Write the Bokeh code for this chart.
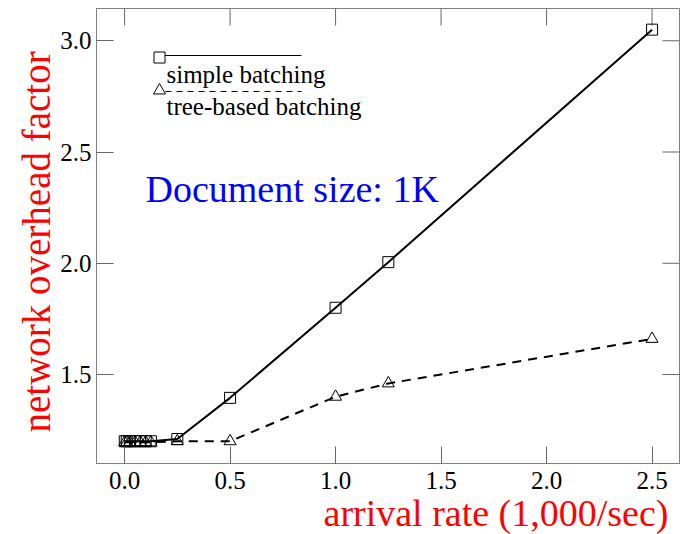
from bokeh.embed import file_html
from bokeh.models import FixedTicker, Label, PrintfTickFormatter, Range1d, Title
from bokeh.plotting import figure
from bokeh.resources import INLINE

# arrival rate in thousands of requests per second
rate = [0.001, 0.01, 0.025, 0.05, 0.075, 0.1, 0.125, 0.25, 0.5, 1.0, 1.25, 2.5]
# network overhead factor for each batching scheme
overhead_simple = [1.2, 1.2, 1.2, 1.2, 1.2, 1.2, 1.2, 1.21, 1.395, 1.8, 2.005, 3.05]
overhead_tree = [1.195, 1.195, 1.195, 1.195, 1.195, 1.195, 1.195, 1.2, 1.2, 1.4, 1.46, 1.66]

x_ticks = [0.0, 0.5, 1.0, 1.5, 2.0, 2.5]
y_ticks = [1.5, 2.0, 2.5, 3.0]

# plot geometry (pixels) and data extents
W, H = 680, 534
FL, FR, FT, FB = 96, 679, 8, 463
X0, X1 = -0.133, 2.63
Y0, Y1 = 1.10, 3.145
TICK = 17

SERIF = "Liberation Serif"
AXIS_GREY = "#808080"
TICK_GREY = "#666666"


def px_x(px):
    return X0 + (px - FL) / (FR - FL) * (X1 - X0)


def px_y(py):
    return Y0 + (FB - py) / (FB - FT) * (Y1 - Y0)


p = figure(
    frame_width=FR - FL, frame_height=FB - FT,
    x_range=Range1d(X0, X1), y_range=Range1d(Y0, Y1),
    output_backend="svg", toolbar_location=None,
    min_border_left=FL, min_border_right=W - FR,
    min_border_top=FT, min_border_bottom=H - FB,
    background_fill_color="white", border_fill_color="white",
)
p.xgrid.visible = False
p.ygrid.visible = False
p.outline_line_color = AXIS_GREY

xax = p.below[0]
yax = p.left[0]
xax.ticker = FixedTicker(ticks=x_ticks)
yax.ticker = FixedTicker(ticks=y_ticks)
for ax in (xax, yax):
    ax.formatter = PrintfTickFormatter(format="%.1f")
    ax.major_tick_in = TICK
    ax.major_tick_out = 0
    ax.minor_tick_line_color = None
    ax.axis_line_color = AXIS_GREY
    ax.major_tick_line_color = TICK_GREY
    ax.major_label_text_font = SERIF
    ax.major_label_text_font_size = "25px"
    ax.major_label_text_color = "black"
xax.major_label_standoff = 8
yax.major_label_standoff = 5

# mirrored tick marks along the top and right edges of the frame
dx = (X1 - X0) / (FR - FL) * TICK
dy = (Y1 - Y0) / (FB - FT) * TICK
p.segment(x_ticks, [Y1] * len(x_ticks), x_ticks, [Y1 - dy] * len(x_ticks),
          line_color=TICK_GREY, line_width=1)
p.segment([X1] * len(y_ticks), y_ticks, [X1 - dx] * len(y_ticks), y_ticks,
          line_color=TICK_GREY, line_width=1)

# data series
p.line(rate, overhead_simple, line_color="black", line_width=2)
p.scatter(rate, overhead_simple, marker="square", size=11, fill_color=None,
          line_color="black", line_width=1)
p.line(rate, overhead_tree, line_color="black", line_width=2, line_dash="9 7")
p.scatter(rate, overhead_tree, marker="triangle", size=12, fill_color=None,
          line_color="black", line_width=1)

# legend keys
p.line([px_x(159), px_x(301)], [px_y(55), px_y(55)], line_color="black", line_width=1)
p.scatter([px_x(159)], [px_y(57)], marker="square", size=11, fill_color="white",
          line_color="black", line_width=1)
p.line([px_x(165), px_x(301)], [px_y(91), px_y(91)], line_color="black", line_width=1,
       line_dash="6 5")
p.scatter([px_x(159)], [px_y(90)], marker="triangle", size=12, fill_color="white",
          line_color="black", line_width=1)


def add_text(px, py, text, size, color="black"):
    p.add_layout(Label(x=px_x(px), y=px_y(py), text=text, text_font=SERIF,
                       text_font_size=size, text_color=color, text_align="left",
                       text_baseline="alphabetic"))


add_text(166, 73.5, "simple batching", "25px")
add_text(166, 105.5, "tree-based batching", "25px")
add_text(145, 188.5, "Document size: 1K", "38px", color="blue")

# axis titles
p.add_layout(Title(text="arrival rate (1,000/sec)", align="right", offset=11,
                   standoff=-4, text_font=SERIF, text_font_size="38px",
                   text_font_style="normal", text_color="red"), "below")
p.add_layout(Title(text="network overhead factor", align="left", offset=31,
                   standoff=0, text_font=SERIF, text_font_size="39px",
                   text_font_style="normal", text_color="red"), "left")

open("out.html", "w").write(file_html(p, INLINE))
